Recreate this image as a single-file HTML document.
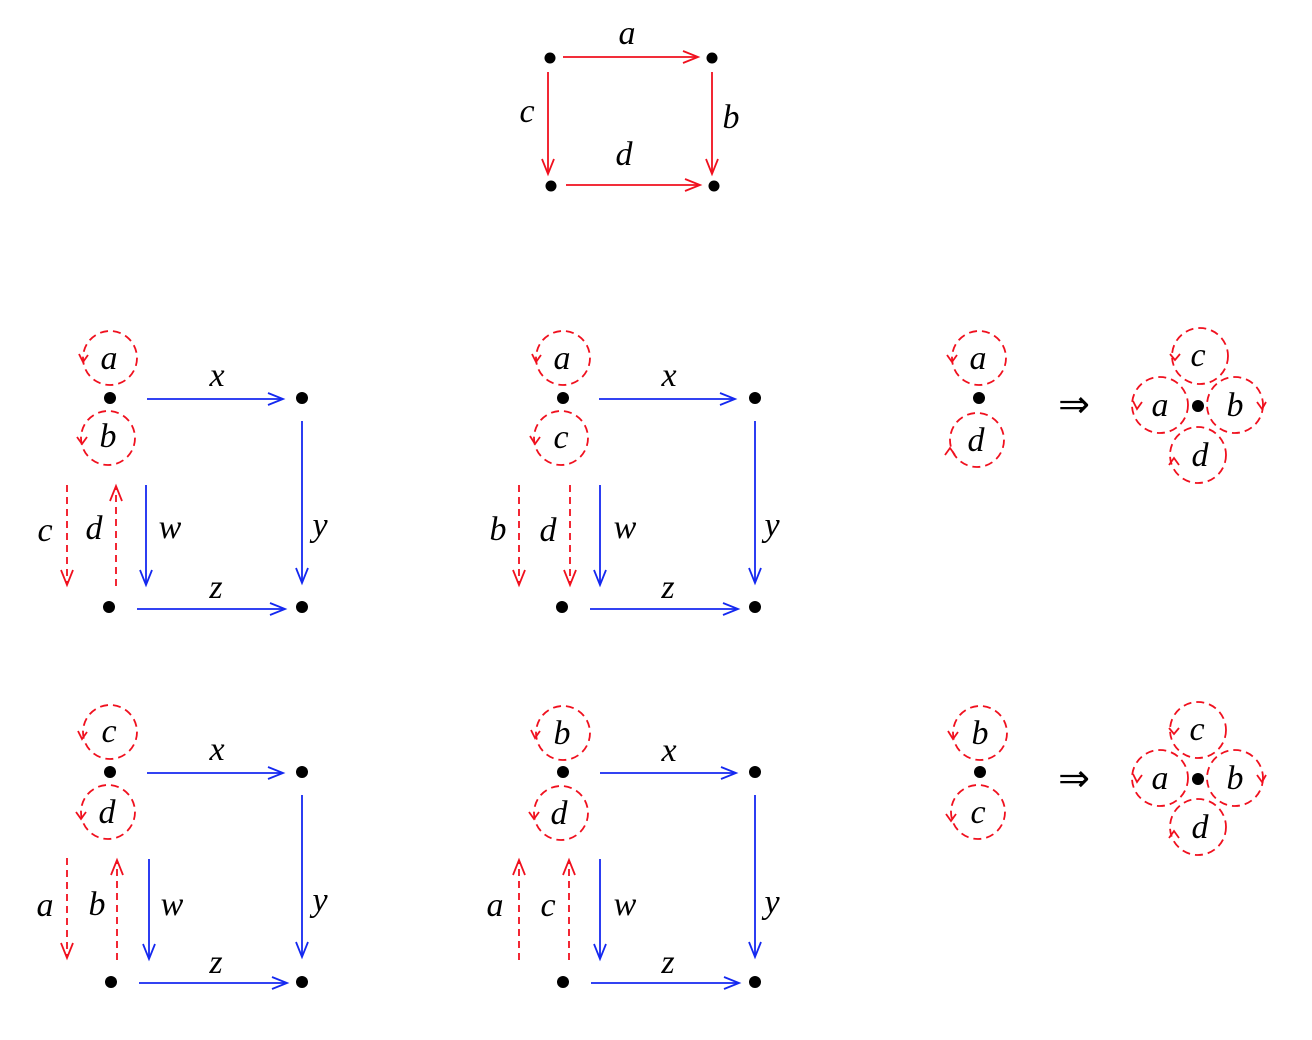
<!DOCTYPE html>
<html><head><meta charset="utf-8">
<style>
html,body{margin:0;padding:0;background:#fff;}
svg{display:block;}
text{font-family:"Liberation Serif",serif;font-style:italic;font-size:34px;fill:#000;text-anchor:middle;}
.r{stroke:#f0101e;stroke-width:1.8;fill:none;}
.rd{stroke:#f0101e;stroke-width:1.8;fill:none;stroke-dasharray:7,5;}
circle.rd{stroke-dasharray:8,5;}
.b{stroke:#1428f0;stroke-width:1.8;fill:none;}
.arr{font-style:normal;font-family:'DejaVu Sans',sans-serif;font-size:38px;}
</style></head><body>
<svg width="1312" height="1040" viewBox="0 0 1312 1040" xmlns="http://www.w3.org/2000/svg">
<defs>
<marker id="ar" markerUnits="userSpaceOnUse" markerWidth="20" markerHeight="16" refX="16" refY="7" orient="auto"><path d="M1,1 L16,7 L1,13" fill="none" stroke="#f0101e" stroke-width="1.8"/></marker>
<marker id="ab" markerUnits="userSpaceOnUse" markerWidth="20" markerHeight="16" refX="16" refY="7" orient="auto"><path d="M1,1 L16,7 L1,13" fill="none" stroke="#1428f0" stroke-width="1.8"/></marker>
</defs>

<g fill="#000"><circle cx="550" cy="58" r="5.5"/><circle cx="712" cy="58" r="5.5"/><circle cx="551" cy="186" r="5.5"/><circle cx="714" cy="186" r="5.5"/></g>
<line class="r" x1="563" y1="57" x2="698" y2="57" marker-end="url(#ar)"/>
<line class="r" x1="548" y1="72" x2="548" y2="174" marker-end="url(#ar)"/>
<line class="r" x1="712" y1="72" x2="712" y2="174" marker-end="url(#ar)"/>
<line class="r" x1="566" y1="185" x2="700" y2="185" marker-end="url(#ar)"/>
<text x="627" y="44">a</text><text x="527" y="122">c</text><text x="731" y="128">b</text><text x="624" y="165">d</text>

<g fill="#000">
<circle cx="110" cy="398" r="6"/><circle cx="302" cy="398" r="6"/><circle cx="109" cy="607" r="6"/><circle cx="302" cy="607" r="6"/>
<circle cx="563" cy="398" r="6"/><circle cx="755" cy="398" r="6"/><circle cx="562" cy="607" r="6"/><circle cx="755" cy="607" r="6"/>
<circle cx="110" cy="772" r="6"/><circle cx="302" cy="772" r="6"/><circle cx="111" cy="982" r="6"/><circle cx="302" cy="982" r="6"/>
<circle cx="563" cy="772" r="6"/><circle cx="755" cy="772" r="6"/><circle cx="563" cy="982" r="6"/><circle cx="755" cy="982" r="6"/>
<circle cx="979" cy="398" r="6"/><circle cx="980" cy="772" r="6"/>
<circle cx="1198" cy="406" r="6"/><circle cx="1198" cy="779" r="6"/>
</g>

<line class="b" x1="147" y1="399" x2="283" y2="399" marker-end="url(#ab)"/>
<line class="b" x1="302" y1="421" x2="302" y2="583" marker-end="url(#ab)"/>
<line class="b" x1="146" y1="485" x2="146" y2="585" marker-end="url(#ab)"/>
<line class="b" x1="137" y1="609" x2="285" y2="609" marker-end="url(#ab)"/>
<line class="rd" x1="67" y1="485" x2="67" y2="585" marker-end="url(#ar)"/>
<line class="rd" x1="116" y1="586" x2="116" y2="486" marker-end="url(#ar)"/>
<circle class="rd" cx="110" cy="358" r="27"/><circle class="rd" cx="108" cy="438" r="27"/>
<text x="109" y="369">a</text><text x="108" y="447">b</text>
<text x="217" y="386">x</text><text x="320" y="536">y</text><text x="170" y="538">w</text><text x="216" y="598">z</text>
<text x="45" y="541">c</text><text x="94" y="539">d</text>

<line class="b" x1="599" y1="399" x2="735" y2="399" marker-end="url(#ab)"/>
<line class="b" x1="755" y1="421" x2="755" y2="583" marker-end="url(#ab)"/>
<line class="b" x1="600" y1="485" x2="600" y2="585" marker-end="url(#ab)"/>
<line class="b" x1="590" y1="609" x2="738" y2="609" marker-end="url(#ab)"/>
<line class="rd" x1="519" y1="485" x2="519" y2="585" marker-end="url(#ar)"/>
<line class="rd" x1="570" y1="485" x2="570" y2="585" marker-end="url(#ar)"/>
<circle class="rd" cx="563" cy="358" r="27"/><circle class="rd" cx="561" cy="438" r="27"/>
<text x="562" y="369">a</text><text x="561" y="448">c</text>
<text x="669" y="386">x</text><text x="772" y="536">y</text><text x="625" y="538">w</text><text x="668" y="598">z</text>
<text x="498" y="540">b</text><text x="548" y="541">d</text>

<line class="b" x1="147" y1="773" x2="283" y2="773" marker-end="url(#ab)"/>
<line class="b" x1="302" y1="795" x2="302" y2="957" marker-end="url(#ab)"/>
<line class="b" x1="149" y1="859" x2="149" y2="959" marker-end="url(#ab)"/>
<line class="b" x1="139" y1="983" x2="287" y2="983" marker-end="url(#ab)"/>
<line class="rd" x1="67" y1="858" x2="67" y2="958" marker-end="url(#ar)"/>
<line class="rd" x1="117" y1="960" x2="117" y2="860" marker-end="url(#ar)"/>
<circle class="rd" cx="110" cy="732" r="27"/><circle class="rd" cx="108" cy="812" r="27"/>
<text x="109" y="742">c</text><text x="107" y="823">d</text>
<text x="217" y="760">x</text><text x="320" y="911">y</text><text x="172" y="915">w</text><text x="216" y="973">z</text>
<text x="45" y="916">a</text><text x="97" y="915">b</text>

<line class="b" x1="600" y1="773" x2="736" y2="773" marker-end="url(#ab)"/>
<line class="b" x1="755" y1="795" x2="755" y2="957" marker-end="url(#ab)"/>
<line class="b" x1="600" y1="859" x2="600" y2="959" marker-end="url(#ab)"/>
<line class="b" x1="591" y1="983" x2="739" y2="983" marker-end="url(#ab)"/>
<line class="rd" x1="519" y1="960" x2="519" y2="860" marker-end="url(#ar)"/>
<line class="rd" x1="569" y1="960" x2="569" y2="860" marker-end="url(#ar)"/>
<circle class="rd" cx="563" cy="733" r="27"/><circle class="rd" cx="561" cy="813" r="27"/>
<text x="562" y="744">b</text><text x="559" y="824">d</text>
<text x="669" y="761">x</text><text x="772" y="913">y</text><text x="625" y="915">w</text><text x="668" y="973">z</text>
<text x="495" y="916">a</text><text x="548" y="916">c</text>

<circle class="rd" cx="979" cy="358" r="27"/><circle class="rd" cx="977" cy="440" r="27"/>
<text x="978" y="369">a</text><text x="976" y="451">d</text>
<text x="1074" y="417" class="arr">⇒</text>
<circle class="rd" cx="1200" cy="356" r="28"/><circle class="rd" cx="1160" cy="405" r="28"/>
<circle class="rd" cx="1235" cy="405" r="28"/><circle class="rd" cx="1198" cy="455" r="28"/>
<text x="1198" y="366">c</text><text x="1160" y="416">a</text><text x="1235" y="416">b</text><text x="1200" y="466">d</text>

<circle class="rd" cx="980" cy="733" r="27"/><circle class="rd" cx="978" cy="812" r="27"/>
<text x="980" y="744">b</text><text x="978" y="823">c</text>
<text x="1074" y="791" class="arr">⇒</text>
<circle class="rd" cx="1198" cy="730" r="28"/><circle class="rd" cx="1160" cy="778" r="28"/>
<circle class="rd" cx="1235" cy="778" r="28"/><circle class="rd" cx="1198" cy="827" r="28"/>
<text x="1197" y="740">c</text><text x="1160" y="789">a</text><text x="1235" y="789">b</text><text x="1200" y="838">d</text>

<g class="r">
<path d="M79,354 L83,362 L88,355"/>
<path d="M77,437 L82,444 L87,437"/>
<path d="M532,354 L536,362 L541,355"/>
<path d="M530,436 L535,444 L540,437"/>
<path d="M947,355 L952,362 L957,355"/>
<path d="M945,455 L950,448 L955,455"/>
<path d="M78,731 L82,739 L87,732"/>
<path d="M76,812 L81,819 L86,812"/>
<path d="M531,730 L535,738 L540,731"/>
<path d="M529,812 L534,819 L539,812"/>
<path d="M948,731 L953,739 L958,732"/>
<path d="M946,814 L951,821 L956,814"/>
<path d="M1170,354 L1175,360 L1180,354"/>
<path d="M1133,401 L1137,409 L1142,402"/>
<path d="M1257,402 L1262,409 L1266,402"/>
<path d="M1169,465 L1174,458 L1179,465"/>
<path d="M1169,728 L1174,734 L1179,728"/>
<path d="M1133,774 L1137,782 L1142,775"/>
<path d="M1257,775 L1262,782 L1266,775"/>
<path d="M1169,838 L1174,831 L1179,838"/>
</g>
</svg>
</body></html>
